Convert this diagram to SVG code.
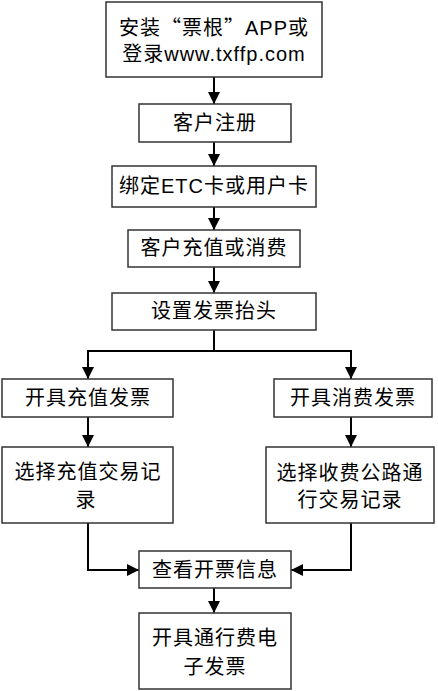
<svg xmlns="http://www.w3.org/2000/svg" width="438" height="691" viewBox="0 0 438 691">
<style>
.box{fill:#fff;stroke:#333;stroke-width:1.5}
.t{font-family:"Liberation Sans","Noto Sans CJK SC",sans-serif;font-size:20px;fill:#000;text-anchor:middle;letter-spacing:1px}
.q{font-family:"Noto Sans CJK SC",sans-serif}
.c{fill:none;stroke:#000;stroke-width:2}
</style>
<defs>
<marker id="ah" viewBox="0 0 12 12" refX="12" refY="6" markerWidth="12" markerHeight="12" markerUnits="userSpaceOnUse" orient="auto">
<path d="M0,0 L12,6 L0,12 Z" fill="#000"/>
</marker>
</defs>
<rect width="438" height="691" fill="#fff"/>
<g id="connectors">
<path class="c" d="M214,77 V104" marker-end="url(#ah)"/>
<path class="c" d="M214,142 V166" marker-end="url(#ah)"/>
<path class="c" d="M214,207 V230" marker-end="url(#ah)"/>
<path class="c" d="M214,267 V293" marker-end="url(#ah)"/>
<path class="c" d="M214,330 V351 M88,351 H351"/>
<path class="c" d="M88,350 V379" marker-end="url(#ah)"/>
<path class="c" d="M351,350 V379" marker-end="url(#ah)"/>
<path class="c" d="M88,417 V447" marker-end="url(#ah)"/>
<path class="c" d="M351,417 V447" marker-end="url(#ah)"/>
<path class="c" d="M88,523 V570 H139" marker-end="url(#ah)"/>
<path class="c" d="M351,523 V570 H291" marker-end="url(#ah)"/>
<path class="c" d="M214,588 V613" marker-end="url(#ah)"/>
</g>
<g id="n1"><rect class="box" x="106" y="2" width="216" height="75"/>
<text class="t" x="214" y="35">安装<tspan class="q">“</tspan>票根<tspan class="q">”</tspan>APP或</text>
<text class="t" x="214" y="61">登录www.txffp.com</text></g>
<g id="n2"><rect class="box" x="139" y="104" width="152" height="38"/>
<text class="t" x="215" y="130">客户注册</text></g>
<g id="n3"><rect class="box" x="112" y="166" width="204" height="41"/>
<text class="t" x="214" y="193">绑定ETC卡或用户卡</text></g>
<g id="n4"><rect class="box" x="128" y="230" width="172" height="37"/>
<text class="t" x="214" y="255">客户充值或消费</text></g>
<g id="n5"><rect class="box" x="112" y="293" width="204" height="37"/>
<text class="t" x="214" y="318">设置发票抬头</text></g>
<g id="n6"><rect class="box" x="2" y="379" width="171" height="38"/>
<text class="t" x="88" y="405">开具充值发票</text></g>
<g id="n7"><rect class="box" x="274" y="379" width="158" height="38"/>
<text class="t" x="353" y="405">开具消费发票</text></g>
<g id="n8"><rect class="box" x="2" y="447" width="171" height="76"/>
<text class="t" x="88" y="479">选择充值交易记</text>
<text class="t" x="86" y="507">录</text></g>
<g id="n9"><rect class="box" x="266" y="447" width="168" height="76"/>
<text class="t" x="350" y="480">选择收费公路通</text>
<text class="t" x="350" y="507">行交易记录</text></g>
<g id="n10"><rect class="box" x="139" y="551" width="152" height="37"/>
<text class="t" x="215" y="577">查看开票信息</text></g>
<g id="n11"><rect class="box" x="139" y="613" width="152" height="76"/>
<text class="t" x="215" y="645">开具通行费电</text>
<text class="t" x="215" y="674">子发票</text></g>
</svg>
